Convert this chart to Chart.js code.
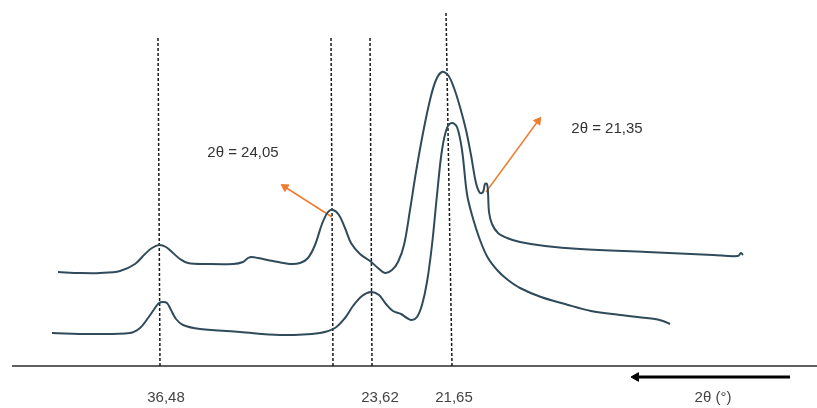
<!DOCTYPE html>
<html><head><meta charset="utf-8">
<script src="https://cdn.jsdelivr.net/npm/chart.js@4/dist/chart.umd.min.js"></script>
<style>html,body{margin:0;padding:0;background:#fff;overflow:hidden}#wrap{width:817px;height:408px;position:relative}canvas{display:block}</style>
</head><body><div id="wrap"><canvas id="c"></canvas></div>
<script>
// Schematic XRD plot: x = position along the (reversed) 2θ axis, y = intensity (a.u.)
const topX = [58,80,100,120,135,145,152,159,166,173,180,188,207,233,243,248,252,258,273,290,300,308,315,322,328,333,339,345,351,360,370,378,385,392,398,404,410,416,423,430,436,442,448,454,460,466,471,476,480,483,485,487,488,489,492,498,507,520,545,580,647,713,738,741,743];
const topY = [94,93,93,95,102,112,118,121,119,113,107,103,102,102,104,108,109,108,105,102,103,108,121,142,154,156,151,138,123,112,105,98,93,96,104,121,156,194,233,266,286,294,291,278,259,236,211,183,173,174,182,182,174,154,142,133,128,124,120,117,114,111,110,113,111];
const botX = [52,90,130,140,148,155,159,163,167,171,176,183,200,240,280,320,335,345,353,362,371,379,386,393,401,407,412,417,422,427,432,437,442,447,452,457,462,467,472,480,488,498,508,520,541,565,591,620,655,663,670];
const botY = [33,32,33,38,48,58,63,64,63,56,47,41,37,34,31,33,38,48,60,70,74,71,62,55,52,48,46,49,61,84,121,171,216,238,243,239,216,172,151,126,108,95,86,78,69,62,55,51,47,45,42];

// reference (dashed) lines: x at bottom, x at top, top height
const refBottomX = [160, 333, 372, 452];
const refTopX    = [158, 331, 370, 446];
const refTopY    = [328, 329, 330, 354];

// axis extent and tick labels
const axisStartX = 12, axisEndX = 817;
const tickPos = [166, 380, 454, 713];
const tickLabels = ['36,48', '23,62', '21,65', '2θ (°)'];
const tickLabelY = -32;

// annotations
const noteText = ['2θ = 24,05', '2θ = 21,35'];
const noteX = [243, 607];
const noteY = [213, 237];
// orange arrows: from (peak) -> to (label)
const arrowFromX = [332, 486], arrowFromY = [149, 174];
const arrowToX = [285, 538],  arrowToY = [179, 245];
// direction arrow along axis
const dirFromX = 790, dirToX = 636, dirY = -11;

const pts = (xs, ys) => xs.map((x, i) => ({x, y: ys[i]}));
const rot = (x0, y0, x1, y1) => Math.atan2(x1 - x0, y1 - y0) * 180 / Math.PI;

const curveColor = '#2f4b5b';
const datasets = [];
datasets.push({data: pts(topX, topY), borderColor: curveColor, borderWidth: 2, pointRadius: 0, tension: 0.35, fill: false});
datasets.push({data: pts(botX, botY), borderColor: curveColor, borderWidth: 2, pointRadius: 0, tension: 0.35, fill: false});
for (let i = 0; i < refBottomX.length; i++) {
  datasets.push({data: [{x: refBottomX[i], y: 0}, {x: refTopX[i], y: refTopY[i]}], borderColor: '#1a1a1a', borderWidth: 1.5, borderDash: [3, 2], pointRadius: 0, tension: 0});
}
// axis line
datasets.push({data: [{x: axisStartX, y: 0}, {x: axisEndX, y: 0}], borderColor: '#2a2a2a', borderWidth: 1.5, pointRadius: 0, tension: 0});
for (let i = 0; i < arrowFromX.length; i++) {
  const r = rot(arrowFromX[i], arrowFromY[i], arrowToX[i], arrowToY[i]);
  datasets.push({data: [{x: arrowFromX[i], y: arrowFromY[i]}, {x: arrowToX[i], y: arrowToY[i]}], borderColor: '#ed7d31', borderWidth: 1.5,
    pointRadius: [0, 4.5], pointStyle: 'triangle', pointRotation: [0, r], pointBackgroundColor: '#ed7d31', pointBorderColor: '#ed7d31', pointBorderWidth: 1, tension: 0});
}
datasets.push({data: [{x: dirFromX, y: dirY}, {x: dirToX, y: dirY}], borderColor: '#000', borderWidth: 3,
  pointRadius: [0, 5], pointStyle: 'triangle', pointRotation: [0, -90], pointBackgroundColor: '#000', pointBorderColor: '#000', pointBorderWidth: 1, tension: 0});

const FONT = '15px "Liberation Sans", Arial, sans-serif';
const notes = {
  id: 'notes',
  afterDatasetsDraw(chart) {
    const {ctx, scales: {x, y}} = chart;
    ctx.save();
    ctx.font = FONT;
    ctx.textAlign = 'center';
    ctx.textBaseline = 'middle';
    ctx.fillStyle = '#333';
    noteText.forEach((t, i) => ctx.fillText(t, x.getPixelForValue(noteX[i]), y.getPixelForValue(noteY[i])));
    ctx.fillStyle = '#444';
    tickLabels.forEach((t, i) => ctx.fillText(t, x.getPixelForValue(tickPos[i]), y.getPixelForValue(tickLabelY)));
    ctx.restore();
  }
};

new Chart(document.getElementById('c'), {
  type: 'line',
  data: {datasets},
  options: {
    responsive: true, maintainAspectRatio: false, animation: false,
    layout: {padding: 0, autoPadding: false},
    plugins: {legend: {display: false}, tooltip: {enabled: false}},
    scales: {
      x: {type: 'linear', display: false, min: 0, max: 817},
      y: {type: 'linear', display: false, min: -42, max: 366}
    }
  },
  plugins: [notes]
});
</script></body></html>
